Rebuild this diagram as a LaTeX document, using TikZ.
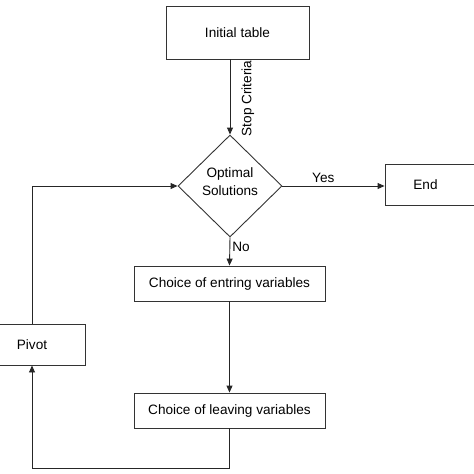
\documentclass[tikz,border=0pt]{standalone}
\usepackage{fontspec}
\setmainfont{Liberation Sans}
\usetikzlibrary{shapes.geometric,arrows.meta}
\begin{document}
\begin{tikzpicture}[x=1pt,y=-1pt,
    every node/.style={font=\fontsize{13.6}{18}\selectfont},
    box/.style={draw=black!80,line width=0.9pt,rectangle,inner sep=0pt},
    test/.style={draw=black!80,line width=0.9pt,diamond,inner sep=0pt,align=center},
    flow/.style={draw=black!85,line width=0.9pt,-{Triangle[length=7pt,width=6pt]}}]
    \useasboundingbox (0,0) rectangle (474,474);
    \clip (0,0) rectangle (474,474);
    % boxes
    \node [box,minimum width=143,minimum height=53] (init) at (237.5,32.5) {Initial table};
    \node [test,minimum width=104,minimum height=102,text depth=9pt] (optsol) at (230,186) {Optimal\\Solutions};
    \node [box,minimum width=95,minimum height=41] (finish) at (432.5,185) {End\hspace*{14pt}};
    \node [box,minimum width=191,minimum height=35] (entring) at (229.5,283.5) {Choice of entring variables};
    \node [box,minimum width=191,minimum height=35] (leaving) at (229.5,410.5) {Choice of leaving variables};
    \node [box,minimum width=106,minimum height=41] (pivot) at (32,344.5) {Pivot};
    % connectors
    \draw [flow] (init.south -| optsol.north) -- (optsol.north)
        node [pos=0.52,rotate=90,anchor=north,inner xsep=0pt,inner ysep=11pt] {Stop Criteria};
    \draw [flow] (optsol.east) -- (optsol.east -| finish.west)
        node [pos=0.4,above] {Yes};
    \draw [flow] (optsol.south) -- (entring.north)
        node [pos=0.35,right,inner sep=2pt] {No};
    \draw [flow] (entring) -- (leaving);
    \draw [flow] (leaving.south) -- ++(0,40) -| (pivot.south);
    \draw [flow] (pivot.north) |- (optsol.west);
\end{tikzpicture}
\end{document}
